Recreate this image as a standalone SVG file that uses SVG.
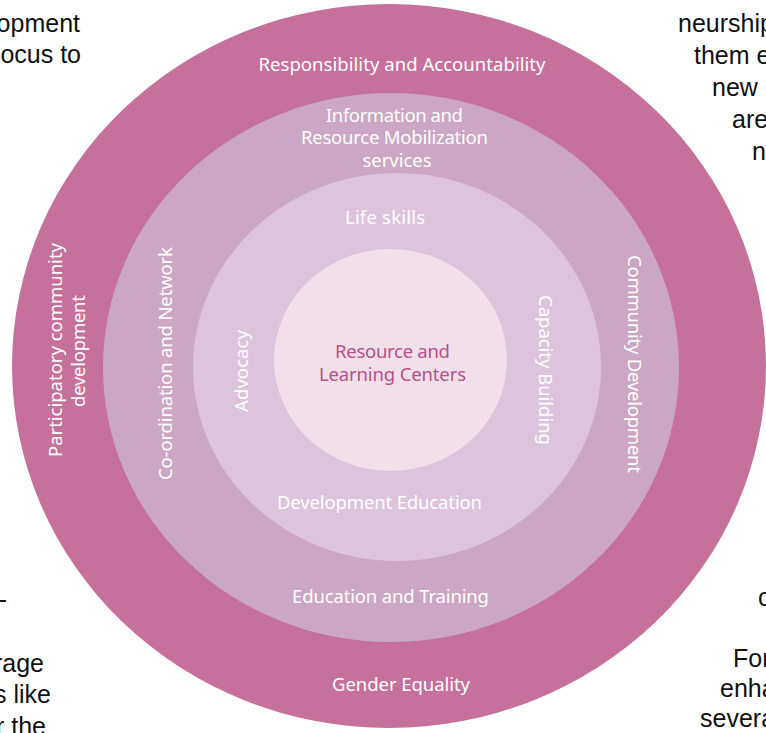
<svg xmlns="http://www.w3.org/2000/svg" width="766" height="733" viewBox="0 0 766 733">
  <style>
    .lbl { font-family: "Noto Sans", "Open Sans", "DejaVu Sans", sans-serif; font-size: 18.5px; fill: #ffffff; text-anchor: middle; }
    .core { fill: #b5508a; }
    .body { font-family: "Liberation Sans", Arial, sans-serif; font-size: 25px; fill: #111111; }
    .end { text-anchor: end; }
  </style>

  <rect x="0" y="0" width="766" height="733" fill="#ffffff"/>

  <!-- surrounding page text, cut off at the edges -->
  <g id="page-text">
    <text class="body end" x="80" y="32">opment</text>
    <text class="body end" x="81" y="63">ocus to</text>
    <text class="body end" x="7" y="608">-</text>
    <text class="body end" x="44" y="672">rage</text>
    <text class="body end" x="51" y="703">s like</text>
    <text class="body end" x="46" y="735">r the</text>

    <text class="body" x="678" y="32">neurship</text>
    <text class="body" x="694" y="64">them e</text>
    <text class="body" x="712" y="96">new</text>
    <text class="body" x="732" y="128">are</text>
    <text class="body" x="752" y="160">n</text>
    <text class="body" x="758" y="606">c</text>
    <text class="body" x="733" y="667">For</text>
    <text class="body" x="720" y="697">enha</text>
    <text class="body" x="700" y="727">severa</text>
  </g>

  <!-- outer ring -->
  <g id="ring-outer">
    <ellipse cx="389" cy="366" rx="377" ry="362" fill="#c5719c"/>
    <text class="lbl" x="402" y="71" textLength="287">Responsibility and Accountability</text>
    <text class="lbl" x="401" y="691" textLength="138">Gender Equality</text>
    <text class="lbl" transform="translate(62 350) rotate(-90)" x="0" y="0" textLength="214">Participatory community</text>
    <text class="lbl" transform="translate(84.5 351) rotate(-90)" x="0" y="0" textLength="112">development</text>
  </g>

  <!-- second ring -->
  <g id="ring-second">
    <ellipse cx="391" cy="367.5" rx="288" ry="274.5" fill="#cba7c3"/>
    <text class="lbl" x="394.5" y="122" textLength="137">Information and</text>
    <text class="lbl" x="394.5" y="144" textLength="187">Resource Mobilization</text>
    <text class="lbl" x="397" y="166.5" textLength="69">services</text>
    <text class="lbl" x="390.5" y="603" textLength="197">Education and Training</text>
    <text class="lbl" transform="translate(172 363.5) rotate(-90)" x="0" y="0" textLength="233">Co-ordination and Network</text>
    <text class="lbl" transform="translate(628 364) rotate(90)" x="0" y="0" textLength="218">Community Development</text>
  </g>

  <!-- third ring -->
  <g id="ring-third">
    <ellipse cx="397" cy="367" rx="204" ry="194" fill="#dcc4dd"/>
    <text class="lbl" x="385" y="224" textLength="80">Life skills</text>
    <text class="lbl" x="379.5" y="509" textLength="205">Development Education</text>
    <text class="lbl" transform="translate(247.5 371) rotate(-90)" x="0" y="0" textLength="82">Advocacy</text>
    <text class="lbl" transform="translate(538.5 370) rotate(90)" x="0" y="0" textLength="150">Capacity Building</text>
  </g>

  <!-- centre -->
  <g id="core">
    <ellipse cx="390.5" cy="360" rx="116.5" ry="111" fill="#f1e0ea"/>
    <text class="lbl core" x="392.5" y="358" textLength="115">Resource and</text>
    <text class="lbl core" x="392.5" y="380.5" textLength="147">Learning Centers</text>
  </g>
</svg>
